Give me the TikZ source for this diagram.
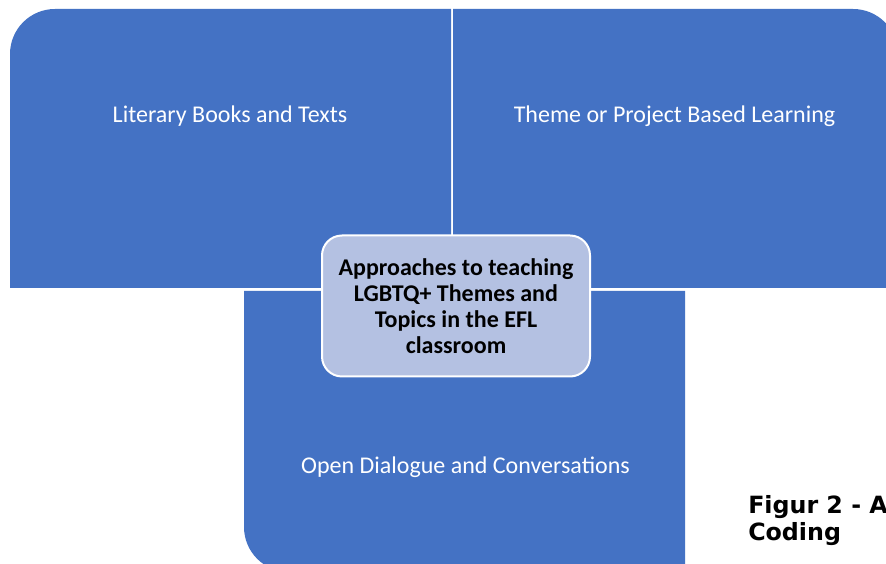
\documentclass[tikz,border=0pt]{standalone}
\usepackage{fontspec}
\setmainfont{Carlito}
\newfontfamily\capfont{DejaVu Sans}
\usetikzlibrary{positioning}
\definecolor{myblue}{RGB}{68, 114, 196}
\definecolor{mylight}{RGB}{180, 193, 226}
\tikzset{
    block/.style={fill=myblue},
    blocktext/.style={text=white, font=\fontsize{18}{22}\selectfont},
}

\begin{document}
\begin{tikzpicture}[x=0.75pt, y=0.75pt]
    \clip (0,0) rectangle (886,564);
    \fill[white] (0,0) rectangle (886,564);

    % top left block
    \fill[block] (10,276) -- (10,510) arc[start angle=180, end angle=90, radius=33.75pt] -- (451,555) -- (451,276) -- cycle;
    \node[blocktext] (books) at (230,448) {Literary Books and Texts};

    % top right block
    \fill[block] (453,276) -- (453,555) -- (853,555) arc[start angle=90, end angle=0, radius=33.75pt] -- (898,276) -- cycle;
    \node[blocktext] (themes) at (674.5,448) {Theme or Project Based Learning};

    % bottom block
    \fill[block] (244,273) -- (244,37) arc[start angle=180, end angle=270, radius=33.75pt] -- (685,-8) -- (685,273) -- cycle;
    \node[blocktext] (dialogue) at (465.5,97) {Open Dialogue and Conversations};

    % centre
    \node[rectangle, rounded corners=15pt, draw=white, line width=1.5pt, fill=mylight, minimum width=201pt, minimum height=105.75pt, align=center, font=\bfseries\fontsize{18}{19.5}\selectfont] (hub) at (456,258) {Approaches to teaching\\LGBTQ+ Themes and\\Topics in the EFL\\classroom};

    % caption
    \node[anchor=base west, inner sep=0pt, align=left, font=\capfont\bfseries\fontsize{17.8}{20.3}\selectfont] (caption) at (748,23) {Figur 2 - A\\Coding};
\end{tikzpicture}
\end{document}
